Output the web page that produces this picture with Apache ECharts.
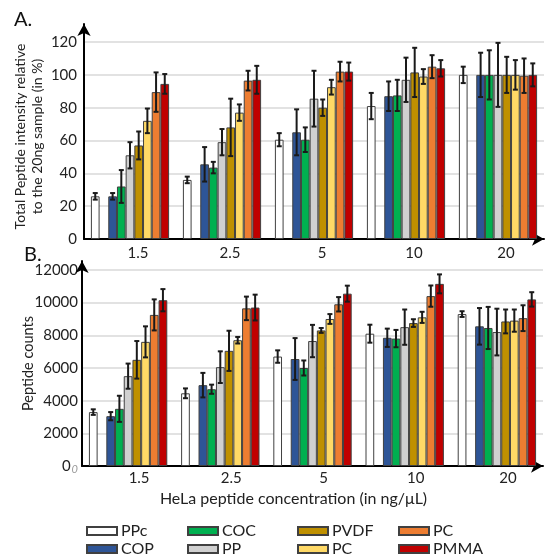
<!DOCTYPE html>
<html>
<head>
<meta charset="utf-8">
<script src="https://cdn.jsdelivr.net/npm/echarts@6/dist/echarts.min.js"></script>
<style>
  html, body { margin: 0; padding: 0; background: #fff; }
  #chart { width: 552px; height: 557px; }
</style>
</head>
<body>
<div id="chart"></div>
<script>
// concentrations (ng/uL)
const categories = ['1.5', '2.5', '5', '10', '20'];
const polymers = ['PPc', 'COP', 'COC', 'PP', 'PVDF', 'PC', 'PC', 'PMMA'];
const colors = ['#ffffff', '#2e5597', '#00b050', '#d0d0d0', '#bf9000', '#ffd966', '#ed7d31', '#c00000'];

// A. total peptide intensity relative to 20ng (%), rows follow polymers
const relMean = [
  [26, 36, 60.5, 81, 100],
  [26, 45.5, 65, 87, 100],
  [32, 43.5, 60.5, 87.5, 100],
  [51, 59, 85.5, 97, 100],
  [57, 68, 80, 101.5, 100],
  [72, 77, 92.5, 99, 100],
  [89.5, 96.5, 102, 105, 99.5],
  [94.5, 97, 102, 104, 100]
];
const relErr = [
  [2, 2, 4, 8, 5],
  [2, 10.5, 14, 9, 13.5],
  [10, 3.5, 7.5, 9.5, 15],
  [8, 8, 17, 13.5, 19.5],
  [8.5, 17.5, 5, 15, 11],
  [7.5, 5, 4.5, 4.5, 9],
  [12, 6, 6, 7, 10.5],
  [6, 8.5, 5.5, 5, 7]
];

// B. peptide counts
const countMean = [
  [3300, 4450, 6700, 8100, 9300],
  [3050, 4950, 6550, 7850, 8550],
  [3500, 4700, 6000, 7800, 8450],
  [5500, 6050, 7650, 8500, 8200],
  [6500, 7050, 8300, 8750, 8850],
  [7600, 7700, 9000, 9100, 8900],
  [9250, 9650, 9900, 10400, 9050],
  [10150, 9700, 10550, 11150, 10200]
];
const countErr = [
  [170, 300, 380, 550, 175],
  [250, 750, 1280, 560, 1120],
  [800, 280, 460, 530, 1290],
  [770, 970, 990, 1080, 1430],
  [1150, 1230, 150, 235, 730],
  [950, 200, 300, 340, 680],
  [950, 720, 440, 650, 790],
  [680, 790, 490, 580, 440]
];

const font = 'Lato';
const catGap = 0.15;
const slots = 9; // PPc, empty slot, then the 7 polymers
const seriesKeys = polymers.map((p, i) => p + '#' + i);
const slotOf = i => (i === 0 ? 0 : i + 1);

const chart = echarts.init(document.getElementById('chart'));

function barSeries(panel, means) {
  const list = [];
  polymers.forEach((p, i) => {
    if (i === 1) {
      list.push({
        type: 'bar', name: 'spacer', xAxisIndex: panel, yAxisIndex: panel,
        data: categories.map(() => null), silent: true
      });
    }
    list.push({
      type: 'bar',
      name: seriesKeys[i],
      xAxisIndex: panel,
      yAxisIndex: panel,
      barGap: '0%',
      barCategoryGap: (catGap * 100) + '%',
      itemStyle: { color: colors[i], borderColor: '#404040', borderWidth: 1 },
      emphasis: { disabled: true },
      data: means[i]
    });
  });
  return list;
}

function errorSeries(panel, means, errs) {
  const data = [];
  means.forEach((row, i) => {
    row.forEach((v, c) => data.push([c, v, errs[i][c], slotOf(i)]));
  });
  return {
    type: 'custom',
    xAxisIndex: panel,
    yAxisIndex: panel,
    z: 10,
    silent: true,
    encode: { x: 0, y: 1 },
    data: data,
    renderItem: function (params, api) {
      const c = api.value(0), v = api.value(1), e = api.value(2), s = api.value(3);
      const band = api.size([1, 0])[0];
      const used = band * (1 - catGap);
      const bw = used / slots;
      const mid = api.coord([c, v]);
      const x = mid[0] - used / 2 + (s + 0.5) * bw;
      const hi = api.coord([c, v + e])[1];
      const lo = api.coord([c, v - e])[1];
      const st = { stroke: '#1a1a1a', lineWidth: 2 };
      const cap = 2.5;
      return {
        type: 'group',
        children: [
          { type: 'line', shape: { x1: x, y1: hi, x2: x, y2: lo }, style: st },
          { type: 'line', shape: { x1: x - cap, y1: hi, x2: x + cap, y2: hi }, style: st },
          { type: 'line', shape: { x1: x - cap, y1: lo, x2: x + cap, y2: lo }, style: st }
        ]
      };
    }
  };
}

const axisLineStyle = {
  show: true,
  symbol: ['none', 'arrow'],
  symbolSize: [10, 12],
  lineStyle: { color: '#000', width: 2 }
};

function xAxis(panel, labelShift) {
  return {
    type: 'category',
    gridIndex: panel,
    data: categories,
    axisLine: axisLineStyle,
    axisTick: { show: false },
    axisLabel: {
      color: '#222', fontSize: 15, fontFamily: font,
      margin: panel === 0 ? 7 : 5,
      padding: [0, 0, 0, labelShift]
    }
  };
}

// legend: four columns of two entries
const legendCols = [[0, 1], [2, 3], [4, 5], [6, 7]];
const legendLeft = [86, 187, 297, 398];
const legends = legendCols.map((col, k) => ({
  orient: 'vertical',
  left: legendLeft[k],
  top: 523,
  padding: 0,
  itemWidth: 30,
  itemHeight: 8,
  itemGap: 2,
  icon: 'rect',
  selectedMode: false,
  data: col.map(i => seriesKeys[i]),
  formatter: n => n.split('#')[0],
  textStyle: { fontSize: 16, fontFamily: font, color: '#222', lineHeight: 15, padding: [0, 0, 0, -1] }
}));

const option = {
  animation: false,
  backgroundColor: '#fff',
  legend: legends,
  grid: [
    { left: 84, right: 8, top: 24, bottom: 318 },
    { left: 82, right: 9, top: 261, bottom: 91 }
  ],
  xAxis: [
    xAxis(0, 16),
    Object.assign(xAxis(1, 22), {
      name: 'HeLa peptide concentration (in ng/μL)',
      nameLocation: 'middle',
      nameGap: 25,
      nameMoveOverlap: false,
      nameTextStyle: { fontSize: 16, fontFamily: font, color: '#222', padding: [0, 38, 0, 0] }
    })
  ],
  yAxis: [
    {
      type: 'value',
      gridIndex: 0,
      min: 0,
      max: 131,
      interval: 20,
      axisLine: axisLineStyle,
      axisTick: { show: false },
      axisLabel: { color: '#222', fontSize: 15, fontFamily: font, margin: 7, showMaxLabel: false },
      splitLine: { show: true, showMaxLine: false, lineStyle: { color: '#d9d9d9', width: 1.5 } },
      name: 'Total Peptide intensity relative\nto the 20ng sample (in %)',
      nameLocation: 'middle',
      nameGap: 38,
      nameMoveOverlap: false,
      nameTextStyle: { fontSize: 14, fontFamily: font, color: '#222', lineHeight: 17, padding: [0, 10, 0, 0] }
    },
    {
      type: 'value',
      gridIndex: 1,
      min: 0,
      max: 12550,
      interval: 2000,
      axisLine: axisLineStyle,
      axisTick: { show: false },
      axisLabel: {
        color: '#222', fontSize: 15, fontFamily: font, margin: 4, showMaxLabel: false,
        formatter: v => (v === 0 ? '0{s|0}' : String(v)),
        rich: { s: { fontSize: 11, color: '#999', fontStyle: 'italic', padding: [6, 0, 0, 1] } }
      },
      splitLine: { show: true, showMaxLine: false, lineStyle: { color: '#d9d9d9', width: 1.5 } },
      name: 'Peptide counts',
      nameLocation: 'middle',
      nameGap: 46,
      nameMoveOverlap: false,
      nameTextStyle: { fontSize: 14.5, fontFamily: font, color: '#222' }
    }
  ],
  graphic: [
    { type: 'text', left: 14, top: 10, style: { text: 'A.', fontSize: 20, fontFamily: font, fill: '#111' } },
    { type: 'text', left: 24, top: 245, style: { text: 'B.', fontSize: 20, fontFamily: font, fill: '#111' } }
  ],
  series: [].concat(
    barSeries(0, relMean),
    [errorSeries(0, relMean, relErr)],
    barSeries(1, countMean),
    [errorSeries(1, countMean, countErr)]
  )
};

chart.setOption(option);
</script>
</body>
</html>
